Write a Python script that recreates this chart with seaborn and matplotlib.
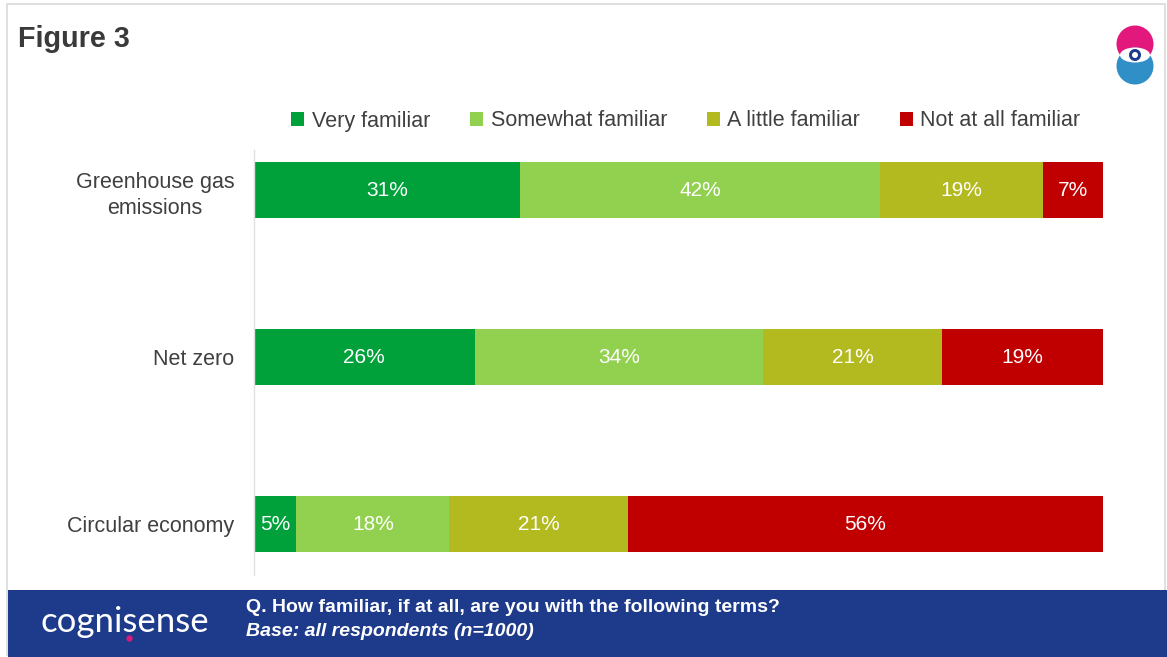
import numpy as np
import pandas as pd
import matplotlib
matplotlib.use("Agg")
import matplotlib.pyplot as plt
from matplotlib.patches import Rectangle, Circle, Ellipse, Patch
from matplotlib.lines import Line2D
import seaborn as sns

terms = ["Greenhouse gas\nemissions", "Net zero", "Circular economy"]
levels = ["Very familiar", "Somewhat familiar", "A little familiar", "Not at all familiar"]
very = [31, 26, 5]
somewhat = [42, 34, 18]
little = [19, 21, 21]
not_at_all = [7, 19, 56]
colors = ["#00a13b", "#92d050", "#b3ba20", "#c00000"]

sns.set_theme(style="white")
plt.rcParams["font.family"] = ["Liberation Sans", "DejaVu Sans"]

W, H = 1167, 657
fig = plt.figure(figsize=(W / 100, H / 100), dpi=100)

def fx(px):
    return px / W

def fy(py):
    return 1 - py / H

# page frame
fig.patches.append(Rectangle((fx(7), fy(655)), fx(1165) - fx(7), fy(4) - fy(655),
                             transform=fig.transFigure, facecolor="white",
                             edgecolor="#d9d9d9", lw=1.2, zorder=-5))

ax = fig.add_axes([fx(254), fy(575), fx(1103) - fx(254), fy(150) - fy(575)])
ax.set_facecolor("none")

data = np.array([very, somewhat, little, not_at_all], dtype=float)
shares = data / data.sum(axis=0) * 100
cum = np.cumsum(shares, axis=0)

# stack by drawing cumulative totals from the widest down
for i in range(len(levels) - 1, -1, -1):
    df = pd.DataFrame({"term": terms, "value": cum[i]})
    sns.barplot(data=df, x="value", y="term", orient="h", color=colors[i],
                width=0.335, saturation=1, ax=ax, linewidth=0)

for i in range(len(levels)):
    vals = data[i]
    for j in range(len(terms)):
        left = cum[i, j] - shares[i, j]
        ax.text(left + shares[i, j] / 2, j, f"{int(vals[j])}%", ha="center",
                va="center", color="white", fontsize=15)

ax.set_xlim(0, 100)
ax.set_ylim(2.305, -0.24)
ax.set_xlabel("")
ax.set_ylabel("")
ax.set_xticks([])
for s in ["top", "right", "bottom"]:
    ax.spines[s].set_visible(False)
ax.spines["left"].set_color("#e0e0e0")
ax.spines["left"].set_linewidth(1)
ax.tick_params(axis="y", length=0, pad=14, labelsize=15.5, labelcolor="#404040")
for lab in ax.get_yticklabels():
    lab.set_multialignment("center")
    lab.set_linespacing(1.35)

handles = [Patch(facecolor=c, edgecolor="none") for c in colors]
fig.legend(handles, levels, loc="center", bbox_to_anchor=(fx(686), fy(121)),
           ncol=4, frameon=False, fontsize=15.5, handlelength=0.6, handleheight=0.6,
           handletextpad=0.35, columnspacing=1.85, labelcolor="#404040")

fig.text(fx(18), fy(39), "Figure 3", fontsize=20.7, fontweight="bold",
         color="#3a3a3a", va="center", ha="left")

# footer band
fig.patches.append(Rectangle((fx(8), 0), 1 - fx(8), fy(590), transform=fig.transFigure,
                             facecolor="#1e3a8a", edgecolor="none", zorder=1))
fig.text(fx(40), fy(622), "cognisense", fontsize=25, color="white", va="center",
         ha="left", family=["Lato", "DejaVu Sans"], zorder=3)
fig.add_artist(Line2D([fx(129)], [fy(638)], marker="o", markersize=3.5,
                      color="#e0197d", transform=fig.transFigure, zorder=4))
fig.text(fx(246), fy(608), "Q. How familiar, if at all, are you with the following terms?",
         fontsize=14, fontweight="bold", color="white", va="center", ha="left", zorder=3)
fig.text(fx(246), fy(632), "Base: all respondents (n=1000)", fontsize=14,
         fontweight="bold", style="italic", color="white", va="center", ha="left", zorder=3)

# corner logo
logo = fig.add_axes([fx(1110), fy(88), fx(1160) - fx(1110), fy(18) - fy(88)])
logo.set_xlim(0, 50)
logo.set_ylim(70, 0)
logo.set_aspect("equal")
logo.axis("off")
logo.add_patch(Circle((25, 26), 18.5, facecolor="#e2187c", edgecolor="none"))
logo.add_patch(Circle((25, 48), 18.5, facecolor="#2f8fc6", edgecolor="none"))
logo.add_patch(Ellipse((25, 37), 30, 15, facecolor="white", edgecolor="none"))
logo.add_patch(Circle((25, 37), 6, facecolor="#1e3a8a", edgecolor="none"))
logo.add_patch(Circle((25, 37), 3, facecolor="white", edgecolor="none"))

fig.savefig("out.png", dpi=100)
